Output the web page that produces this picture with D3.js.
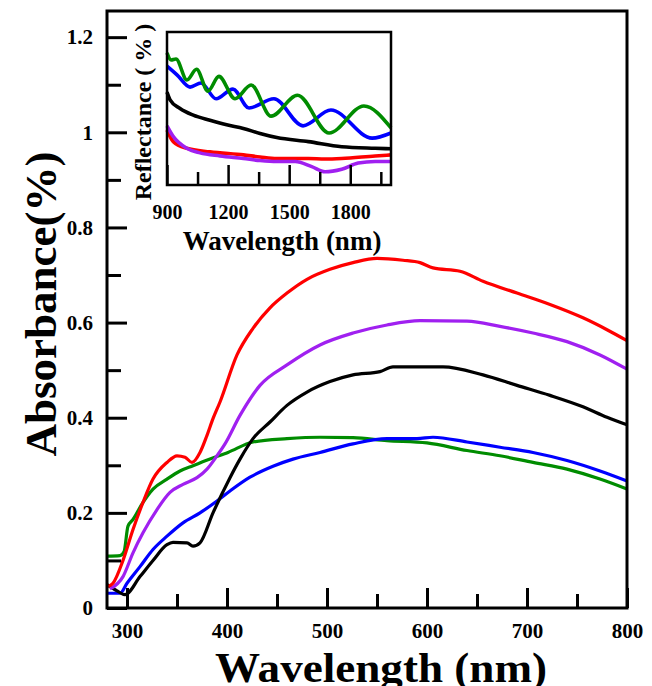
<!DOCTYPE html>
<html>
<head>
<meta charset="utf-8">
<script src="https://cdn.jsdelivr.net/npm/d3@7"></script>
<style>
  body { margin: 0; background: #fff; }
  text { font-family: "Liberation Serif", "Times New Roman", serif; font-weight: bold; fill: #000; }
</style>
</head>
<body>
<svg id="chart" width="652" height="686"></svg>
<script>
// Absorbance spectra, [wavelength nm, absorbance]
const absRed = [[281,0.045],[286,0.052],[296,0.10],[306,0.165],[316,0.222],[326,0.271],[340,0.306],[350,0.320],[358,0.317],[365,0.306],[373,0.327],[380,0.363],[386,0.398],[393,0.433],[410,0.532],[426,0.588],[443,0.631],[460,0.662],[480,0.691],[503,0.712],[526,0.726],[550,0.735],[576,0.731],[593,0.726],[606,0.715],[633,0.708],[656,0.687],[690,0.662],[723,0.638],[756,0.610],[780,0.585],[800,0.562]];
const absPurple = [[283,0.040],[296,0.066],[306,0.116],[316,0.158],[330,0.207],[343,0.243],[356,0.260],[370,0.274],[380,0.292],[390,0.320],[398,0.345],[413,0.405],[433,0.468],[460,0.511],[493,0.553],[526,0.578],[560,0.595],[593,0.604],[640,0.603],[673,0.592],[706,0.578],[740,0.560],[773,0.532],[800,0.502]];
const absBlack = [[280,0.049],[290,0.036],[298,0.028],[313,0.066],[326,0.100],[340,0.133],[346,0.138],[360,0.137],[366,0.130],[373,0.137],[386,0.200],[403,0.274],[413,0.313],[426,0.356],[443,0.391],[460,0.426],[480,0.454],[503,0.476],[526,0.490],[553,0.497],[566,0.507],[593,0.507],[616,0.507],[656,0.490],[690,0.468],[723,0.447],[756,0.423],[780,0.401],[800,0.385]];
const absGreen = [[280,0.109],[293,0.110],[297,0.118],[301,0.172],[306,0.186],[316,0.222],[326,0.250],[340,0.271],[353,0.288],[366,0.299],[383,0.313],[401,0.327],[426,0.349],[460,0.356],[493,0.359],[526,0.358],[560,0.352],[600,0.347],[640,0.331],[673,0.320],[706,0.306],[740,0.292],[773,0.271],[800,0.250]];
const absBlue = [[280,0.031],[293,0.031],[300,0.052],[313,0.087],[326,0.123],[340,0.151],[356,0.179],[373,0.200],[390,0.225],[403,0.246],[423,0.275],[446,0.298],[466,0.313],[493,0.327],[526,0.345],[560,0.356],[590,0.356],[606,0.359],[640,0.349],[673,0.338],[706,0.327],[740,0.310],[773,0.288],[800,0.267]];

// Reflectance spectra (inset), [wavelength nm, reflectance %]
const refGreen = [[900,35.9],[920,34.5],[944,34.7],[998,30.6],[1045,32.7],[1101,28.4],[1155,31.3],[1234,26.9],[1313,29.6],[1411,23.5],[1541,27.6],[1696,20.2],[1867,25.5],[2000,21.2]];
const refBlue = [[900,33.3],[949,31.6],[1013,29.2],[1067,30.0],[1141,26.9],[1224,28.8],[1303,25.1],[1425,26.9],[1568,21.6],[1705,24.7],[1907,19.2],[2000,20.2]];
const refBlack = [[900,28.2],[915,26.7],[964,25.0],[1029,23.7],[1111,22.7],[1193,21.8],[1275,21.1],[1357,20.1],[1439,19.3],[1594,18.5],[1758,17.5],[1922,17.2],[2000,17.1]];
const refRed = [[900,20.8],[931,18.5],[997,17.2],[1111,16.5],[1275,15.9],[1357,15.5],[1439,15.2],[1594,15.2],[1676,15.1],[1758,15.2],[1922,15.7],[2000,15.9]];
const refPurple = [[900,21.6],[931,19.5],[997,17.2],[1062,16.3],[1160,15.7],[1275,15.2],[1357,14.8],[1439,14.6],[1529,14.6],[1611,13.6],[1676,12.6],[1758,13.1],[1839,14.3],[1922,14.6],[2000,14.6]];

// Axis ticks
const xMajor = [300, 400, 500, 600, 700, 800];
const xMinor = [350, 450, 550, 650, 750];
const yMajor = [0, 0.2, 0.4, 0.6, 0.8, 1.0, 1.2];
const yMinor = [0.1, 0.3, 0.5, 0.7, 0.9, 1.1];
const insetMajor = [900, 1200, 1500, 1800];
const insetMinor = [1050, 1350, 1650, 1950];

const colors = { red: "#ff0000", purple: "#a020f0", black: "#000000", green: "#008c00", blue: "#0000ff" };

const svg = d3.select("#chart");

// ---------- main plot ----------
const x = d3.scaleLinear().domain([280, 800]).range([107, 627]);
const y = d3.scaleLinear().domain([0, 1.255]).range([608, 11]);

const line = d3.line().x(d => x(d[0])).y(d => y(d[1])).curve(d3.curveMonotoneX);

const main = svg.append("g");
[[absGreen, colors.green], [absBlue, colors.blue], [absBlack, colors.black], [absPurple, colors.purple], [absRed, colors.red]]
  .forEach(([data, c]) => {
    main.append("path").datum(data).attr("d", line)
      .attr("fill", "none").attr("stroke", c).attr("stroke-width", 3.2).attr("stroke-linejoin", "round");
  });

const fmt = v => String(+v.toFixed(1));

const xAxisMajor = main.append("g").attr("transform", `translate(0,${y(0)})`)
  .call(d3.axisBottom(x).tickValues(xMajor).tickSize(-20).tickPadding(15).tickFormat(d3.format("d")));
const xAxisMinor = main.append("g").attr("transform", `translate(0,${y(0)})`)
  .call(d3.axisBottom(x).tickValues(xMinor).tickSize(-14).tickFormat(""));
const yAxisMajor = main.append("g").attr("transform", `translate(${x(280)},0)`)
  .call(d3.axisLeft(y).tickValues(yMajor).tickSize(-20).tickPadding(14).tickFormat(fmt));
const yAxisMinor = main.append("g").attr("transform", `translate(${x(280)},0)`)
  .call(d3.axisLeft(y).tickValues(yMinor).tickSize(-14).tickFormat(""));

[xAxisMajor, xAxisMinor, yAxisMajor, yAxisMinor].forEach(g => {
  g.select(".domain").remove();
  g.selectAll(".tick line").attr("stroke", "#000").attr("stroke-width", 3);
  g.selectAll(".tick text").style("font-size", "21px").style("font-family", "Liberation Serif").style("font-weight", "bold").attr("fill", "#000");
});

main.append("rect")
  .attr("x", x(280)).attr("y", y(1.255))
  .attr("width", x(800) - x(280)).attr("height", y(0) - y(1.255))
  .attr("fill", "none").attr("stroke", "#000").attr("stroke-width", 3);

main.append("text").attr("x", 381).attr("y", 682).attr("text-anchor", "middle")
  .attr("textLength", 332).attr("lengthAdjust", "spacingAndGlyphs")
  .style("font-size", "43px").text("Wavelength (nm)");
main.append("text").attr("transform", "translate(56,304) rotate(-90)").attr("text-anchor", "middle")
  .style("font-size", "45px").text("Absorbance(%)");

// ---------- inset ----------
const xi = d3.scaleLinear().domain([900, 2000]).range([167, 391]);
const yi = d3.scaleLinear().domain([10, 40]).range([185, 32]);
const lineI = d3.line().x(d => xi(d[0])).y(d => yi(d[1])).curve(d3.curveMonotoneX);

const inset = svg.append("g");
inset.append("rect").attr("x", xi(900)).attr("y", yi(40))
  .attr("width", xi(2000) - xi(900)).attr("height", yi(10) - yi(40)).attr("fill", "#fff");

[[refBlack, colors.black], [refRed, colors.red], [refPurple, colors.purple], [refBlue, colors.blue], [refGreen, colors.green]]
  .forEach(([data, c]) => {
    inset.append("path").datum(data).attr("d", lineI)
      .attr("fill", "none").attr("stroke", c).attr("stroke-width", 3.6).attr("stroke-linejoin", "round");
  });

const xiMajor = inset.append("g").attr("transform", `translate(0,${yi(10)})`)
  .call(d3.axisBottom(xi).tickValues(insetMajor).tickSize(-20).tickPadding(20).tickFormat(d3.format("d")));
const xiMinor = inset.append("g").attr("transform", `translate(0,${yi(10)})`)
  .call(d3.axisBottom(xi).tickValues(insetMinor).tickSize(-13).tickFormat(""));
[xiMajor, xiMinor].forEach(g => {
  g.select(".domain").remove();
  g.selectAll(".tick line").attr("stroke", "#000").attr("stroke-width", 2.5);
  g.selectAll(".tick text").style("font-size", "20px").style("font-family", "Liberation Serif").style("font-weight", "bold").attr("fill", "#000");
});

inset.append("rect").attr("x", xi(900)).attr("y", yi(40))
  .attr("width", xi(2000) - xi(900)).attr("height", yi(10) - yi(40))
  .attr("fill", "none").attr("stroke", "#000").attr("stroke-width", 2.5);

inset.append("text").attr("x", 282).attr("y", 250).attr("text-anchor", "middle")
  .style("font-size", "27px").text("Wavelength (nm)");
inset.append("text").attr("transform", "translate(151,112) rotate(-90)").attr("text-anchor", "middle")
  .style("font-size", "24px").text("Reflectance ( % )");
</script>
</body>
</html>
